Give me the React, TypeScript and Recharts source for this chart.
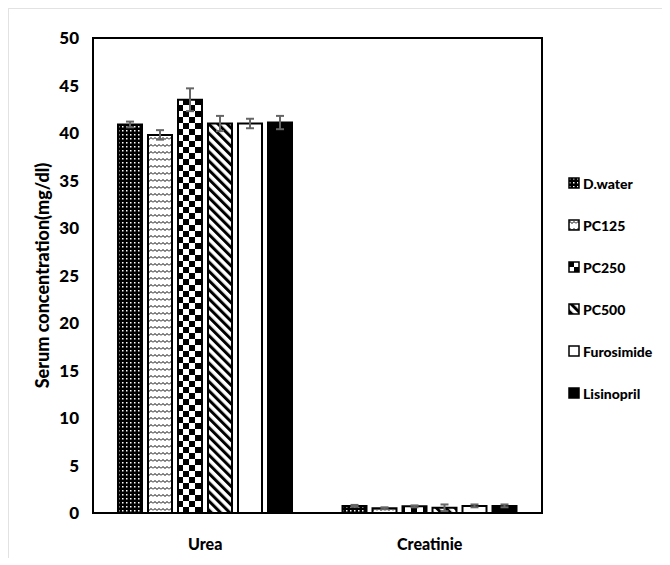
import React from 'react';
import { BarChart, Bar, XAxis, YAxis, ErrorBar, Legend, ReferenceArea } from 'recharts';

const categories = ['Urea', 'Creatinie'];
const dWater = [40.9, 0.75];
const dWaterErr = [0.3, 0.1];
const pc125 = [39.8, 0.5];
const pc125Err = [0.5, 0.1];
const pc250 = [43.5, 0.7];
const pc250Err = [1.2, 0.1];
const pc500 = [41.0, 0.55];
const pc500Err = [0.8, 0.35];
const furosimide = [41.0, 0.75];
const furosimideErr = [0.5, 0.15];
const lisinopril = [41.1, 0.75];
const lisinoprilErr = [0.7, 0.15];
const yTicks = [0, 5, 10, 15, 20, 25, 30, 35, 40, 45, 50];

const font = "Lato, 'Liberation Sans', sans-serif";

const series = [
  { key: 'dwater', name: 'D.water', fill: 'url(#pDots)' },
  { key: 'pc125', name: 'PC125', fill: 'url(#pWave)' },
  { key: 'pc250', name: 'PC250', fill: 'url(#pCheck)' },
  { key: 'pc500', name: 'PC500', fill: 'url(#pDiag)' },
  { key: 'furosimide', name: 'Furosimide', fill: '#ffffff' },
  { key: 'lisinopril', name: 'Lisinopril', fill: '#000000' },
];

const data = categories.map((name, i) => ({
  name,
  dwater: dWater[i], dwaterErr: dWaterErr[i],
  pc125: pc125[i], pc125Err: pc125Err[i],
  pc250: pc250[i], pc250Err: pc250Err[i],
  pc500: pc500[i], pc500Err: pc500Err[i],
  furosimide: furosimide[i], furosimideErr: furosimideErr[i],
  lisinopril: lisinopril[i], lisinoprilErr: lisinoprilErr[i],
}));

const Patterns = () => (
  <defs>
    <pattern id="pDots" patternUnits="userSpaceOnUse" width="4" height="4">
      <rect width="4" height="4" fill="#000" />
      <rect x="1" y="1" width="1.5" height="1.5" fill="#fff" />
    </pattern>
    <pattern id="pWave" patternUnits="userSpaceOnUse" width="8" height="7">
      <rect width="8" height="7" fill="#fff" />
      <path d="M0 4.5 L2 2.5 L4 4.5 L6 2.5 L8 4.5" stroke="#000" strokeWidth="1" fill="none" />
    </pattern>
    <pattern id="pCheck" patternUnits="userSpaceOnUse" width="12" height="12">
      <rect width="12" height="12" fill="#fff" />
      <rect width="6" height="6" fill="#000" />
      <rect x="6" y="6" width="6" height="6" fill="#000" />
    </pattern>
    <pattern id="pDiag" patternUnits="userSpaceOnUse" width="6.5" height="6.5" patternTransform="rotate(-45)">
      <rect width="6.5" height="6.5" fill="#fff" />
      <rect width="3" height="6.5" fill="#000" />
    </pattern>
  </defs>
);

const LegendContent = () => (
  <div style={{ fontFamily: font, fontWeight: 900, fontSize: 14 }}>
    {series.map((s) => (
      <div key={s.key} style={{ height: 42, display: 'flex', alignItems: 'center' }}>
        <svg width={12} height={12} style={{ marginRight: 3 }}>
          <rect x={1} y={1} width={10} height={10} fill={s.fill} stroke="#000" strokeWidth={1.5} />
        </svg>
        <span>{s.name}</span>
      </div>
    ))}
  </div>
);

const YLabel = (props: any) => {
  const { viewBox } = props;
  const cx = viewBox.x + 13;
  const cy = viewBox.y + viewBox.height / 2;
  return (
    <text x={cx} y={cy} transform={`rotate(-90, ${cx}, ${cy})`} textAnchor="middle" dominantBaseline="central"
      fontFamily={font} fontWeight={900} fontSize={18} fill="#000">
      Serum concentration(mg/dl)
    </text>
  );
};

export default function App() {
  return (
    <div style={{ width: 654, height: 549, borderTop: '1px solid #e2e2e2', borderLeft: '1px solid #e2e2e2', background: '#fff' }}>
      <BarChart width={653} height={548} data={data} barSize={24} barGap={6}
        margin={{ top: 29, right: 120, bottom: 14, left: 20 }}>
        <Patterns />
        <XAxis dataKey="name" height={30} tickLine={false} axisLine={{ stroke: '#000', strokeWidth: 2 }}
          tickMargin={20} tick={{ fontFamily: font, fontWeight: 900, fontSize: 16, fill: '#000' }} />
        <YAxis domain={[0, 50]} ticks={yTicks} width={64} tickLine={false} interval={0}
          axisLine={{ stroke: '#000', strokeWidth: 2 }} tickSize={6} tickMargin={8}
          tick={{ fontFamily: font, fontWeight: 900, fontSize: 17, fill: '#000' }}
          label={<YLabel />} />
        <ReferenceArea y1={0} y2={50} fill="none" stroke="#000" strokeWidth={2} strokeOpacity={1} fillOpacity={0} />
        <Legend layout="vertical" align="center" verticalAlign="middle" content={<LegendContent />}
          wrapperStyle={{ left: 559, top: 153, width: 94, height: 260 }} />
        {series.map((s) => (
          <Bar key={s.key} dataKey={s.key} name={s.name} fill={s.fill} stroke="#000" strokeWidth={2}
            isAnimationActive={false}>
            <ErrorBar dataKey={`${s.key}Err`} width={4} stroke="#666" strokeWidth={2} direction="y" />
          </Bar>
        ))}
      </BarChart>
    </div>
  );
}
